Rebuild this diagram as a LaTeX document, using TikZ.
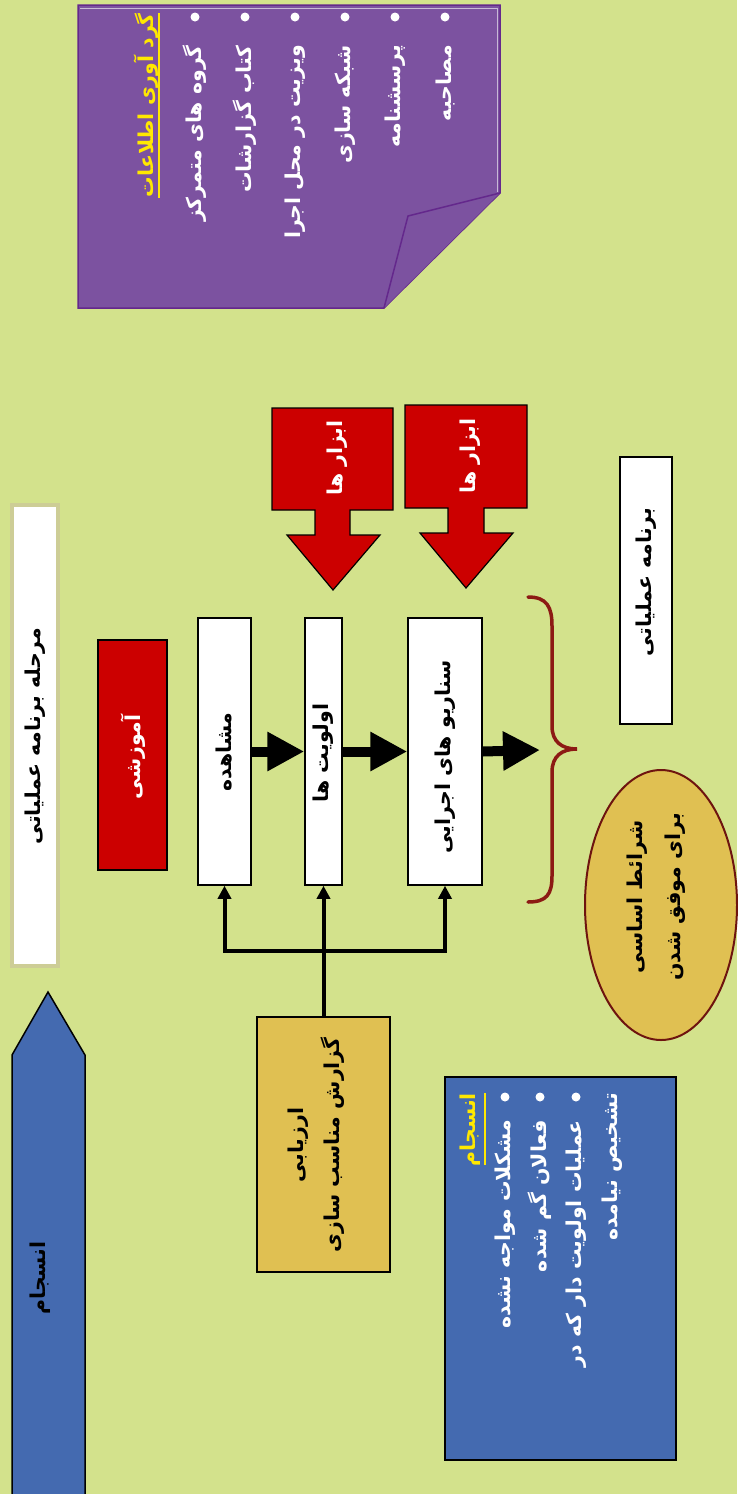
\documentclass[tikz,border=0pt]{standalone}
\usepackage{fontspec}
\usepackage{graphicx}
\newfontfamily\fa[Script=Arabic]{DejaVu Sans}
\TeXXeTstate=1
\usetikzlibrary{arrows.meta,shapes.geometric}
\definecolor{bg}{RGB}{211,226,140}
\definecolor{purp}{RGB}{124,82,160}
\definecolor{purpline}{RGB}{100,40,140}
\definecolor{purplight}{RGB}{200,185,215}
\definecolor{redbox}{RGB}{204,0,0}
\definecolor{gold}{RGB}{224,192,82}
\definecolor{bluebox}{RGB}{68,106,176}
\definecolor{khaki}{RGB}{205,205,150}
\definecolor{bracecol}{RGB}{140,26,20}
\definecolor{ellline}{RGB}{110,20,15}
\definecolor{ttl}{RGB}{255,232,0}
\begin{document}
\begin{tikzpicture}[x=1pt,y=-1pt,
  txt/.style={rotate=90, inner sep=0pt, font=\fa\bfseries\fontsize{20.5}{24}\selectfont},
  box/.style={draw=black, line width=1.5pt, inner sep=0pt},
  flow/.style={line width=10pt, -{Triangle[length=37pt,width=37pt]}},
  conn/.style={line width=4pt, -{Triangle[length=13pt,width=13pt]}},
  redarrow/.style={fill=redbox, draw=black, line width=1.2pt},
  dot/.style={fill=white}]
\useasboundingbox (0,0) rectangle (737,1494);
\fill[bg] (0,0) rectangle (737,1494);

% purple note
\filldraw[fill=purp, draw=purpline, line width=1.5pt]
  (78,5) -- (500,5) -- (500,193) -- (384,308) -- (78,308) -- cycle;
\draw[purplight, line width=0.8pt] (80,8) -- (497.5,8) -- (497.5,192);
\filldraw[fill=purp, draw=purpline, line width=1.5pt]
  (500,193) -- (408,216) -- (384,308);
\node[txt, anchor=east, text=ttl] (g0) at (146,13) {\beginR گرد آوری اطلاعات\endR};
\draw[ttl, line width=1.2pt] (159,13) -- (159,198);
\foreach \xx in {195,245,295,345,395,445} \fill[dot] (\xx,17) circle (4.5pt);
\node[txt, anchor=east, text=white] (g1) at (195,45) {\beginR گروه های متمرکز\endR};
\node[txt, anchor=east, text=white] (g2) at (245,45) {\beginR کتاب گزارشات\endR};
\node[txt, anchor=east, text=white] (g3) at (295,45) {\beginR ویزیت در محل اجرا\endR};
\node[txt, anchor=east, text=white] (g4) at (345,45) {\beginR شبکه سازی\endR};
\node[txt, anchor=east, text=white] (g5) at (395,45) {\beginR پرسشنامه\endR};
\node[txt, anchor=east, text=white] (g6) at (445,45) {\beginR مصاحبه\endR};

% stage title
\node[draw=khaki, fill=white, line width=4pt, minimum width=46pt, minimum height=461pt, inner sep=0pt] (stage) at (35,735.5) {};
\node[txt] (stageT) at (35,736) {\beginR مرحله برنامه عملیاتی\endR};

% training
\node[box, fill=redbox, minimum width=69pt, minimum height=230pt] (train) at (132.5,755) {};
\node[txt, text=white] (trainT) at (133,757) {\beginR آموزشی\endR};

% process boxes
\node[box, fill=white, minimum width=53pt, minimum height=267pt] (obs) at (224.5,751.5) {};
\node[txt] (obsT) at (224,752) {\beginR مشاهده\endR};
\node[box, fill=white, minimum width=37pt, minimum height=267pt] (pri) at (323.5,751.5) {};
\node[txt] (priT) at (323,753) {\beginR اولویت ها\endR};
\node[box, fill=white, minimum width=74pt, minimum height=267pt] (sce) at (445,751.5) {};
\node[txt] (sceT) at (445,757) {\beginR سناریو های اجرایی\endR};
\coordinate (flowend) at (540,750);
\draw[flow] (obs.east) -- (pri.west);
\draw[flow] (pri.east) -- (sce.west);
\draw[flow] (sce.east) -- (flowend);

% tools arrows
\filldraw[redarrow] (272,408) -- (393,408) -- (393,510) -- (350,510) -- (350,535) -- (380,535)
  -- (333,590) -- (287,535) -- (315,535) -- (315,510) -- (272,510) -- cycle;
\node[txt, text=white] (tool1) at (337,458) {\beginR ابزار ها\endR};
\filldraw[redarrow] (405,405) -- (527,405) -- (527,508) -- (484,508) -- (484,533) -- (513,533)
  -- (466,588) -- (420,533) -- (448,533) -- (448,508) -- (405,508) -- cycle;
\node[txt, text=white] (tool2) at (470,456) {\beginR ابزار ها\endR};

% brace
\draw[bracecol, line width=3.5pt, line cap=round]
  (528,597) .. controls (547,597) and (552,607) .. (552,626) -- (552,726)
  .. controls (552,742) and (562,749) .. (577,749)
  .. controls (562,749) and (552,756) .. (552,772) -- (552,876)
  .. controls (552,894) and (547,902) .. (528,902);

% action plan
\node[box, fill=white, minimum width=52pt, minimum height=267pt] (prog) at (646,590.5) {};
\node[txt] (progT) at (646,582) {\beginR برنامه عملیاتی\endR};

% conditions ellipse
\node[ellipse, draw=ellline, fill=gold, line width=2pt, minimum width=152pt, minimum height=270pt, inner sep=0pt] (cond) at (661,905) {};
\node[txt] (cond1) at (637,897) {\beginR شرائط اساسی\endR};
\node[txt] (cond2) at (675,897) {\beginR برای موفق شدن\endR};

% evaluation box and connectors
\node[box, fill=gold, minimum width=133pt, minimum height=255pt] (eval) at (323.5,1144.5) {};
\node[txt] (eval1) at (298,1145) {\beginR ارزیابی\endR};
\node[txt] (eval2) at (333,1145) {\beginR گزارش مناسب سازی\endR};
\coordinate (junc) at (323.5,951);
\draw[conn] (eval.north) -- (pri.south);
\draw[conn] (junc) -| (obs.south);
\draw[conn] (junc) -| (sce.south);

% cohesion box
\node[box, fill=bluebox, minimum width=231pt, minimum height=383pt] (coh) at (560.5,1268.5) {};
\node[txt, anchor=east, text=ttl] (c0) at (470,1093) {\beginR انسجام\endR};
\draw[ttl, line width=1.2pt] (485,1093) -- (485,1165);
\foreach \xx in {505,540,576} \fill[dot] (\xx,1097) circle (4.5pt);
\node[txt, anchor=east, text=white] (c1) at (505,1120) {\beginR مشکلات مواجه نشده\endR};
\node[txt, anchor=east, text=white] (c2) at (540,1120) {\beginR فعالان گم شده\endR};
\node[txt, anchor=east, text=white] (c3) at (576,1120) {\beginR عملیات اولویت دار که در\endR};
\node[txt, anchor=east, text=white] (c4) at (612,1093) {\beginR تشخیص نیامده\endR};

% left arrow
\filldraw[fill=bluebox, draw=black, line width=1.5pt]
  (12,1500) -- (12,1055) -- (48,992) -- (85,1055) -- (85,1500);
\node[txt] (arrT) at (40,1278) {\beginR انسجام\endR};
\end{tikzpicture}
\end{document}
